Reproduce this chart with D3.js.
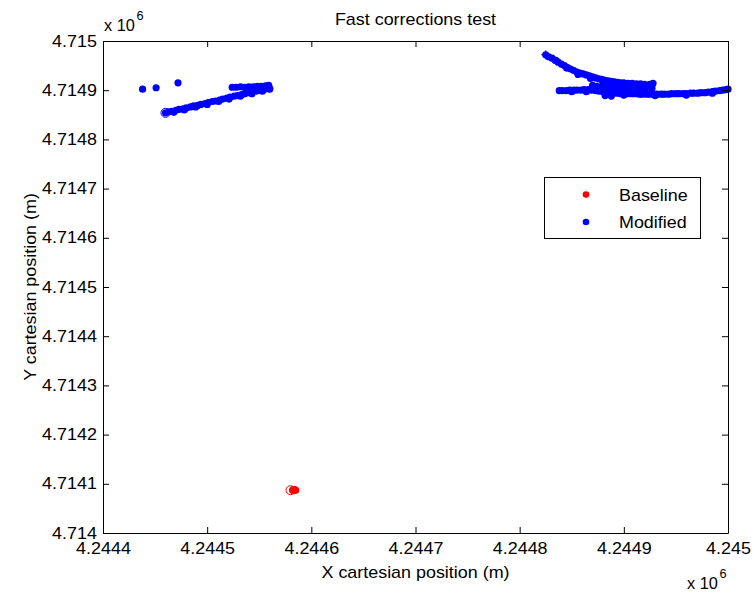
<!DOCTYPE html>
<html><head><meta charset="utf-8">
<script src="https://cdn.jsdelivr.net/npm/d3@7"></script>
<style>body{margin:0;background:#fff} text{font-family:"Liberation Sans",Arial,sans-serif;fill:#000}</style>
</head><body><svg id="c" width="754" height="594"></svg>
<script>
// ---- data ----
const xTicks = [4244400, 4244500, 4244600, 4244700, 4244800, 4244900, 4245000];
const xTickLabels = ["4.2444", "4.2445", "4.2446", "4.2447", "4.2448", "4.2449", "4.245"];
const yTicks = [4714000, 4714100, 4714200, 4714300, 4714400, 4714500, 4714600, 4714700, 4714800, 4714900, 4715000];
const yTickLabels = ["4.714", "4.7141", "4.7142", "4.7143", "4.7144", "4.7145", "4.7146", "4.7147", "4.7148", "4.7149", "4.715"];
const seriesNames = ["Baseline", "Modified"];
const titleText = "Fast corrections test";
const xLabelText = "X cartesian position (m)";
const yLabelText = "Y cartesian position (m)";

const baseX = [4244582, 4244583, 4244584, 4244585, 4244583];
const baseY = [4714087, 4714086, 4714088, 4714087, 4714088];
const baseStart = [4244580, 4714087];

const modX = [
  // isolated early fixes
  4244438, 4244451, 4244472,
  // left track
  4244460, 4244463, 4244466, 4244470, 4244473, 4244477, 4244480, 4244484, 4244487, 4244491,
  4244494, 4244498, 4244501, 4244505, 4244508, 4244512, 4244515, 4244519, 4244522, 4244526,
  4244529, 4244533, 4244536, 4244540, 4244543, 4244547, 4244550, 4244554, 4244557, 4244560,
  4244468, 4244478, 4244489, 4244500, 4244511, 4244521, 4244532, 4244543, 4244553,
  // upper cluster of left track
  4244524, 4244528, 4244532, 4244536, 4244540, 4244544, 4244548, 4244552, 4244556, 4244559, 4244560, 4244558,
  // right curve
  4244825, 4244828, 4244831, 4244834, 4244837, 4244840, 4244843, 4244846, 4244849, 4244852,
  4244855, 4244858, 4244861, 4244864, 4244867, 4244870, 4244873, 4244876, 4244879, 4244882,
  4244885, 4244888, 4244891, 4244894, 4244897, 4244900, 4244904, 4244908, 4244912, 4244916, 4244920, 4244925,
  4244835, 4244845, 4244856, 4244868, 4244880, 4244893,
  // lower band
  4244838, 4244841, 4244845, 4244848, 4244852, 4244855, 4244859, 4244862, 4244866, 4244869,
  4244873, 4244876, 4244880, 4244883, 4244887, 4244890, 4244894, 4244897, 4244901, 4244904,
  4244908, 4244911, 4244915, 4244918, 4244922, 4244925, 4244929, 4244932, 4244936, 4244939,
  4244943, 4244946, 4244950, 4244953, 4244957, 4244960, 4244964, 4244967, 4244971, 4244974,
  4244978, 4244981, 4244985, 4244988, 4244992, 4244995, 4244998, 4245000,
  4244850, 4244864, 4244900, 4244930, 4244960, 4244985,
  // dense cluster between curve and band
  4244870, 4244874, 4244878, 4244882, 4244886, 4244890, 4244894, 4244898, 4244902, 4244906,
  4244910, 4244914, 4244918, 4244922, 4244925, 4244927, 4244880, 4244890, 4244905, 4244920,
  4244885, 4244875, 4244895, 4244912, 4244927, 4244928, 4244882, 4244888, 4244900, 4244915
];
const modY = [
  4714902, 4714905, 4714915,
  4714854, 4714856, 4714857, 4714859, 4714861, 4714862, 4714864, 4714866, 4714868, 4714869,
  4714871, 4714873, 4714875, 4714877, 4714878, 4714880, 4714882, 4714884, 4714886, 4714888,
  4714889, 4714891, 4714893, 4714895, 4714896, 4714898, 4714900, 4714901, 4714903, 4714904,
  4714855, 4714860, 4714866, 4714871, 4714877, 4714882, 4714888, 4714893, 4714898,
  4714906, 4714906, 4714907, 4714906, 4714907, 4714907, 4714908, 4714908, 4714909, 4714910, 4714902, 4714906,
  4714972, 4714968, 4714965, 4714961, 4714957, 4714953, 4714950, 4714946, 4714943, 4714940,
  4714937, 4714935, 4714933, 4714931, 4714929, 4714927, 4714925, 4714923, 4714922, 4714920,
  4714919, 4714918, 4714917, 4714916, 4714915, 4714915, 4714914, 4714914, 4714913, 4714913, 4714912, 4714912,
  4714960, 4714945, 4714932, 4714924, 4714918, 4714913,
  4714899, 4714899, 4714899, 4714900, 4714900, 4714900, 4714900, 4714901, 4714901, 4714900,
  4714899, 4714898, 4714897, 4714896, 4714895, 4714894, 4714894, 4714893, 4714893, 4714893,
  4714893, 4714893, 4714892, 4714892, 4714892, 4714892, 4714892, 4714892, 4714892, 4714892,
  4714892, 4714893, 4714893, 4714893, 4714893, 4714893, 4714894, 4714894, 4714894, 4714895,
  4714895, 4714896, 4714897, 4714898, 4714899, 4714900, 4714901, 4714902,
  4714897, 4714897, 4714890, 4714889, 4714890, 4714894,
  4714910, 4714908, 4714906, 4714905, 4714907, 4714909, 4714907, 4714905, 4714906, 4714908,
  4714907, 4714905, 4714907, 4714908, 4714906, 4714910, 4714912, 4714903, 4714902, 4714902,
  4714900, 4714903, 4714911, 4714910, 4714904, 4714914, 4714889, 4714888, 4714898, 4714898
];
const modStart = [4244460, 4714854];
const modEnd = [4244825, 4714972];

// ---- layout ----
const W = 754, H = 594;
const L = 103, R = 728, T = 41, B = 533;
const SX = 1.12; // horizontal text stretch
const FS = 16;
const svg = d3.select("#c");
svg.append("rect").attr("width", W).attr("height", H).attr("fill", "#fff");

const x = d3.scaleLinear().domain([xTicks[0], xTicks[xTicks.length - 1]]).range([L, R]);
const y = d3.scaleLinear().domain([yTicks[0], yTicks[yTicks.length - 1]]).range([B, T]);

function styleAxis(g) {
  g.select(".domain").attr("stroke", "#000");
  g.selectAll(".tick line").attr("stroke", "#000");
  g.selectAll(".tick text").attr("font-size", FS).attr("font-family", null).attr("fill", "#000");
}

// data marks
const plot = svg.append("g");
plot.append("circle").attr("cx", x(baseStart[0])).attr("cy", y(baseStart[1])).attr("r", 4.5)
  .attr("fill", "none").attr("stroke", "#ff0000").attr("stroke-width", 1);
plot.append("circle").attr("cx", x(modStart[0])).attr("cy", y(modStart[1])).attr("r", 4.5)
  .attr("fill", "none").attr("stroke", "#0000ff").attr("stroke-width", 1);
plot.selectAll(".b").data(baseX.map((d, i) => [d, baseY[i]])).enter().append("circle")
  .attr("cx", d => x(d[0])).attr("cy", d => y(d[1])).attr("r", 3.6).attr("fill", "#ff0000");
plot.selectAll(".m").data(modX.map((d, i) => [d, modY[i]])).enter().append("circle")
  .attr("cx", d => x(d[0])).attr("cy", d => y(d[1])).attr("r", 3.6).attr("fill", "#0000ff");
const px = x(modEnd[0]), py = y(modEnd[1]);
plot.append("path").attr("d", `M${px - 4.5},${py}H${px + 4.5}M${px},${py - 4.5}V${py + 4.5}`)
  .attr("stroke", "#0000ff").attr("stroke-width", 1).attr("fill", "none");

// axes
const gB = svg.append("g").attr("transform", `translate(0,${B})`)
  .call(d3.axisBottom(x).tickValues(xTicks).tickFormat((d, i) => xTickLabels[i]).tickSizeInner(-6).tickSizeOuter(0).tickPadding(10));
styleAxis(gB);
gB.selectAll(".tick text").attr("transform", `scale(${SX},1)`);
const gL = svg.append("g").attr("transform", `translate(${L},0)`)
  .call(d3.axisLeft(y).tickValues(yTicks).tickFormat((d, i) => yTickLabels[i]).tickSizeInner(-6).tickSizeOuter(0).tickPadding(5.5));
styleAxis(gL);
gL.selectAll(".tick text").attr("transform", `scale(${SX},1)`);
const gT = svg.append("g").attr("transform", `translate(0,${T})`)
  .call(d3.axisBottom(x).tickValues(xTicks).tickFormat("").tickSizeInner(6).tickSizeOuter(0));
styleAxis(gT);
const gR = svg.append("g").attr("transform", `translate(${R},0)`)
  .call(d3.axisLeft(y).tickValues(yTicks).tickFormat("").tickSizeInner(6).tickSizeOuter(0));
styleAxis(gR);

// texts
function stext(tx, ty, str, anchor, size, rot, sx) {
  const k = sx || SX;
  const g = svg.append("g").attr("transform", `translate(${tx},${ty})` + (rot ? ` rotate(${rot})` : "") + ` scale(${k},1)`);
  return g.append("text").attr("text-anchor", anchor).attr("font-size", size).text(str);
}
stext((L + R) / 2, 25, titleText, "middle", FS);
stext((L + R) / 2, 578, xLabelText, "middle", FS);
stext(36, (T + B) / 2, yLabelText, "middle", FS, -90);
// exponent labels
stext(104, 31, "x 10", "start", FS, 0, 1.02);
stext(136.5, 20, "6", "start", 12.5, 0, 1.02);
stext(687, 589, "x 10", "start", FS, 0, 1.02);
stext(719.5, 578, "6", "start", 12.5, 0, 1.02);

// legend
const lg = svg.append("g");
lg.append("rect").attr("x", 544.5).attr("y", 177.5).attr("width", 156).attr("height", 61)
  .attr("fill", "#fff").attr("stroke", "#000").attr("stroke-width", 1);
const legColors = ["#ff0000", "#0000ff"];
seriesNames.forEach((n, i) => {
  lg.append("circle").attr("cx", 586).attr("cy", 194.5 + i * 27.5).attr("r", 3.3).attr("fill", legColors[i]);
  stext(619, 200.5 + i * 27.5, n, "start", FS);
});
</script></body></html>
